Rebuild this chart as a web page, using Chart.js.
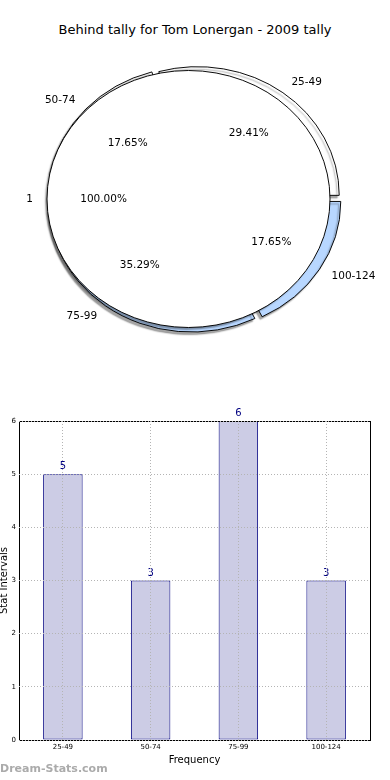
<!DOCTYPE html>
<html>
<head>
<meta charset="utf-8">
<script src="https://cdn.jsdelivr.net/npm/chart.js@4.4.1/dist/chart.umd.min.js"></script>
<style>
    body { margin: 0; background: #fff; }
    #wrap { position: relative; width: 390px; height: 780px; overflow: hidden; font-family: "DejaVu Sans", sans-serif; }
    #title { position: absolute; left: 0; top: 22px; width: 390px; text-align: center; font-size: 13px; line-height: 15px; color: #000; }
    #pieBack, #pieFront { position: absolute; left: 0; top: 0; }
    #bars { position: absolute; left: 0; top: 400px; }
    #mark { position: absolute; left: 0; top: 762px; font-size: 11px; font-weight: bold; color: #ababab; line-height: 14px; }
</style>
</head>
<body>
<div id="wrap">
    <div id="title">Behind tally for Tom Lonergan - 2009 tally</div>
    <canvas id="pieBack" width="390" height="398"></canvas>
    <canvas id="pieFront" width="390" height="398"></canvas>
    <canvas id="bars" width="390" height="380"></canvas>
    <div id="mark">Dream-Stats.com</div>
</div>
<script>
// Data
const categories = ['25-49', '50-74', '75-99', '100-124'];
const frequencies = [5, 3, 6, 3];
const sliceColors = ['#ffffff', '#ffffff', '#b8d7ff', '#b8d7ff'];
const wholeLabel = ['1'];
const wholeValue = [1];
const yTicks = [0, 1, 2, 3, 4, 5, 6];

// pie is drawn a bit flattened, like the original
const pieRadius = 141.5;
const pieSquash = 128.5 / 141.5;

function squashPlugin(outline) {
    return {
        id: 'squash',
        beforeDatasetsDraw(chart) {
            const ctx = chart.ctx;
            const cy = (chart.chartArea.top + chart.chartArea.bottom) / 2;
            ctx.save();
            ctx.translate(0, cy);
            ctx.scale(1, pieSquash);
            ctx.translate(0, -cy);
            ctx.shadowColor = 'rgba(0, 0, 0, 0.35)';
            ctx.shadowOffsetX = -2;
            ctx.shadowOffsetY = 2.5;
            ctx.shadowBlur = 1.5;
        },
        afterDatasetsDraw(chart) {
            const ctx = chart.ctx;
            if (outline) {
                // a lone 100% slice gets a radius line from Chart.js, so trace its rim only
                ctx.shadowColor = 'rgba(0, 0, 0, 0)';
                ctx.strokeStyle = '#000';
                ctx.lineWidth = 1;
                chart.getDatasetMeta(0).data.forEach(arc => {
                    ctx.beginPath();
                    ctx.arc(arc.x, arc.y, arc.outerRadius, arc.startAngle, arc.endAngle);
                    ctx.stroke();
                });
            }
            ctx.restore();
        }
    };
}

function drawPieText(chart, ctx) {
    const meta = chart.getDatasetMeta(0);
    const values = chart.data.datasets[0].data;
    const total = values.reduce((a, b) => a + b, 0);
    const cy = (chart.chartArea.top + chart.chartArea.bottom) / 2;
    ctx.save();
    ctx.font = '10.5px "DejaVu Sans"';
    ctx.fillStyle = '#000';
    ctx.textBaseline = 'middle';
    meta.data.forEach((arc, i) => {
        const mid = (arc.startAngle + arc.endAngle) / 2;
        const off = (arc.options.offset || 0) / 4;
        const shift = off * (2 - Math.sin(Math.min(Math.PI, arc.circumference)));
        const ox = arc.x + Math.cos(mid) * shift;
        const oy = arc.y + Math.sin(mid) * shift;
        const px = r => ox + Math.cos(mid) * r;
        const py = r => cy + (oy + Math.sin(mid) * r - cy) * pieSquash;
        const r = arc.outerRadius;
        ctx.textAlign = Math.cos(mid) > 0 ? 'left' : 'right';
        ctx.fillText(chart.data.labels[i], px(r * 1.1), py(r * 1.1));
        ctx.textAlign = 'center';
        ctx.fillText((values[i] / total * 100).toFixed(2) + '%', px(r * 0.6), py(r * 0.6));
    });
    ctx.restore();
}

// exploded slices, sitting under the big circle
const backChart = new Chart(document.getElementById('pieBack'), {
    type: 'pie',
    data: {
        labels: categories.slice().reverse(),
        datasets: [{
            data: frequencies.slice().reverse(),
            backgroundColor: sliceColors.slice().reverse(),
            borderColor: '#000',
            borderWidth: 1,
            offset: 20
        }]
    },
    options: {
        responsive: false,
        animation: false,
        events: [],
        rotation: 90,
        radius: pieRadius,
        layout: { padding: { left: 6, right: 7 } },
        plugins: { legend: { display: false }, tooltip: { enabled: false } }
    },
    plugins: [squashPlugin(false)]
});

// the single "1" slice covering everything
const frontChart = new Chart(document.getElementById('pieFront'), {
    type: 'pie',
    data: {
        labels: wholeLabel,
        datasets: [{
            data: wholeValue,
            backgroundColor: '#ffffff',
            borderWidth: 0
        }]
    },
    options: {
        responsive: false,
        animation: false,
        events: [],
        rotation: 90,
        radius: pieRadius,
        layout: { padding: { right: 13 } },
        plugins: { legend: { display: false }, tooltip: { enabled: false } }
    },
    plugins: [squashPlugin(true), {
        id: 'pieText',
        afterDraw(chart) {
            drawPieText(backChart, chart.ctx);
            drawPieText(chart, chart.ctx);
        }
    }]
});

const frame = {
    id: 'frame',
    afterDatasetsDraw(chart) {
        const { ctx, chartArea: a } = chart;
        ctx.save();
        ctx.strokeStyle = '#000';
        ctx.lineWidth = 1;
        ctx.strokeRect(Math.round(a.left) + 0.5, Math.round(a.top) + 0.5,
            Math.round(a.right - a.left), Math.round(a.bottom - a.top));
        ctx.restore();
    }
};

const valueLabels = {
    id: 'valueLabels',
    afterDatasetsDraw(chart) {
        const ctx = chart.ctx;
        const meta = chart.getDatasetMeta(0);
        ctx.save();
        ctx.font = '10px "DejaVu Sans"';
        ctx.fillStyle = '#000080';
        ctx.textAlign = 'center';
        ctx.textBaseline = 'alphabetic';
        meta.data.forEach((bar, i) => {
            ctx.fillText(chart.data.datasets[0].data[i], bar.x, bar.y - 5);
        });
        ctx.restore();
    }
};

const barChart = new Chart(document.getElementById('bars'), {
    type: 'bar',
    data: {
        labels: categories,
        datasets: [{
            label: 'Frequency',
            data: frequencies,
            backgroundColor: '#ccccE5',
            borderColor: '#000080',
            borderWidth: 1,
            borderSkipped: false,
            barPercentage: 0.45,
            categoryPercentage: 1
        }]
    },
    options: {
        responsive: false,
        animation: false,
        events: [],
        layout: { padding: { top: 21, right: 20, left: 0, bottom: 0 } },
        plugins: { legend: { display: false }, tooltip: { enabled: false } },
        scales: {
            x: {
                grid: { offset: false, color: '#b4b4b4', lineWidth: 1, drawTicks: false, z: 1 },
                border: { display: false, dash: [1, 2] },
                ticks: { color: '#000', font: { family: 'DejaVu Sans', size: 7 }, padding: 3, maxRotation: 0 },
                title: {
                    display: true,
                    text: 'Frequency',
                    color: '#000',
                    font: { family: 'DejaVu Sans', size: 10 },
                    padding: { top: 0, bottom: 14 }
                },
                afterFit(scale) { scale.height = 40; }
            },
            y: {
                min: yTicks[0],
                max: yTicks[yTicks.length - 1],
                grid: { color: '#b4b4b4', lineWidth: 1, drawTicks: false, z: 1 },
                border: { display: false, dash: [1, 2] },
                ticks: { stepSize: 1, color: '#000', font: { family: 'DejaVu Sans', size: 7 }, padding: 3 },
                title: {
                    display: true,
                    text: 'Stat Intervals',
                    color: '#000',
                    font: { family: 'DejaVu Sans', size: 10 },
                    padding: { top: -2, bottom: 0 }
                },
                afterFit(scale) { scale.width = 19; }
            }
        }
    },
    plugins: [frame, valueLabels]
});
</script>
</body>
</html>
